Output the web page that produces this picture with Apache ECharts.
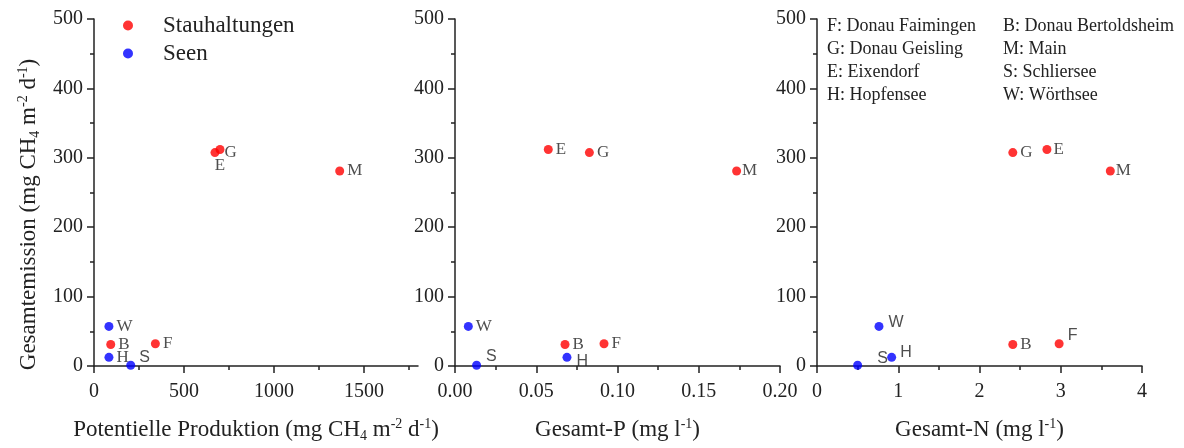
<!DOCTYPE html>
<html>
<head>
<meta charset="utf-8">
<script src="https://cdn.jsdelivr.net/npm/echarts@6/dist/echarts.min.js"></script>
<style>
html,body{margin:0;padding:0;background:#fff;}
#chart{width:1184px;height:448px;}
</style>
</head>
<body>
<div id="chart"></div>
<script>
// ---- data ----
const stauNames = ['F', 'B', 'G', 'M', 'E'];
const stauEmission = [32, 31, 307.5, 281, 312];
const stauProduktion = [341, 93, 672, 1365, 700];
const stauP = [0.0917, 0.0677, 0.0827, 0.1733, 0.0574];
const stauN = [2.98, 2.41, 2.41, 3.61, 2.83];

const seenNames = ['S', 'H', 'W'];
const seenEmission = [1, 12.5, 57];
const seenProduktion = [204, 83, 83];
const seenP = [0.0133, 0.0689, 0.0082];
const seenN = [0.50, 0.919, 0.763];

const yTicks = [0, 100, 200, 300, 400, 500];
const xTicksProd = [0, 500, 1000, 1500];
const xMinorProd = [250, 750, 1250, 1750];
const xTicksP = [0, 0.05, 0.10, 0.15, 0.20];
const xTicksN = [0, 1, 2, 3, 4];

const codeLeft = ['F: Donau Faimingen', 'G: Donau Geisling', 'E: Eixendorf', 'H: Hopfensee'];
const codeRight = ['B: Donau Bertoldsheim', 'M: Main', 'S: Schliersee', 'W: Wörthsee'];

// ---- styles ----
const SERIF = '"Liberation Serif", "Times New Roman", serif';
const SANS = '"Liberation Sans", Arial, sans-serif';
const INK = '#222222';
const RED = '#ff0000';
const BLUE = '#0000ff';

const grids = [
  {left: 94, top: 19, width: 324, height: 349},
  {left: 455, top: 19, width: 325, height: 349},
  {left: 817, top: 19, width: 325, height: 349}
];

// per-panel label placement
const labelPlace = [
  {G: {distance: 5}, E: {position: 'bottom', distance: 3}, S: {sans: true, offset: [1, -8]}},
  {M: {distance: 1}, S: {sans: true, offset: [2, -9]}, H: {sans: true, offset: [2, 4]}},
  {E: {distance: 2}, M: {distance: 1}, W: {sans: true, offset: [2, -4]}, H: {sans: true, offset: [1, -5]},
   S: {sans: true, offset: [12, -7]}, F: {sans: true, offset: [1, -8]}}
];

function items(xs, ys, names, panel) {
  return xs.map((x, i) => {
    const p = labelPlace[panel][names[i]] || {};
    return {
      value: [x, ys[i]],
      name: names[i],
      label: {
        show: true,
        formatter: names[i],
        position: p.position || 'right',
        distance: p.distance !== undefined ? p.distance : 3,
        offset: p.offset || [0, 0],
        fontFamily: p.sans ? SANS : SERIF,
        fontSize: p.sans ? 16 : 17,
        color: INK
      }
    };
  });
}

const lineStyle = {color: INK, width: 1.5};
const tickFont = {fontFamily: SERIF, fontSize: 20, color: INK};
function baseAxis(extra) {
  return Object.assign({
    type: 'value',
    axisLine: {show: true, onZero: false, lineStyle: lineStyle},
    axisTick: {show: true, inside: false, length: 7, lineStyle: lineStyle},
    minorTick: {show: true, splitNumber: 2, length: 4, lineStyle: lineStyle},
    splitLine: {show: false},
    minorSplitLine: {show: false},
    axisLabel: Object.assign({margin: 16}, tickFont)
  }, extra);
}

const rich = {
  n: {fontFamily: SERIF, fontSize: 23, color: INK, lineHeight: 26},
  sub: {fontFamily: SERIF, fontSize: 14, color: INK, lineHeight: 12, verticalAlign: 'bottom'},
  sup: {fontFamily: SERIF, fontSize: 14, color: INK, lineHeight: 14, verticalAlign: 'top'}
};
const nameStyle = {fontFamily: SERIF, fontSize: 23, color: INK, lineHeight: 26, rich: rich};

const xAxes = [
  baseAxis({gridIndex: 0, position: 'bottom', min: 0, max: 1800,
    axisTick: {show: true, length: 7, lineStyle: lineStyle, customValues: xTicksProd},
    axisLabel: Object.assign({margin: 16, customValues: xTicksProd, formatter: v => String(v)}, tickFont),
    minorTick: {show: false},
    name: '{n|Potentielle Produktion (mg CH}{sub|4}{n| m}{sup|-2}{n| d}{sup|-1}{n|)}',
    nameLocation: 'middle', nameGap: 51, nameTextStyle: nameStyle}),
  baseAxis({gridIndex: 1, position: 'bottom', min: xTicksP[0], max: xTicksP[xTicksP.length - 1], interval: 0.05,
    axisLabel: Object.assign({margin: 16, formatter: v => v.toFixed(2)}, tickFont),
    name: '{n|Gesamt-P (mg l}{sup|-1}{n|)}',
    nameLocation: 'middle', nameGap: 51, nameTextStyle: nameStyle}),
  baseAxis({gridIndex: 2, position: 'bottom', min: xTicksN[0], max: xTicksN[xTicksN.length - 1], interval: 1,
    name: '{n|Gesamt-N (mg l}{sup|-1}{n|)}',
    nameLocation: 'middle', nameGap: 51, nameTextStyle: nameStyle}),
  // minor ticks of the first x axis
  {type: 'value', gridIndex: 0, position: 'bottom', min: 0, max: 1800,
    axisLine: {show: false, onZero: false}, axisLabel: {show: false}, splitLine: {show: false},
    axisTick: {show: true, length: 4, lineStyle: lineStyle, customValues: xMinorProd}}
];

const yAxes = [0, 1, 2].map(g => baseAxis({
  gridIndex: g, position: 'left', min: yTicks[0], max: yTicks[yTicks.length - 1], interval: 100,
  axisLabel: Object.assign({margin: 11}, tickFont),
  name: g === 0 ? '{n|Gesamtemission (mg CH}{sub|4}{n| m}{sup|-2}{n| d}{sup|-1}{n|)}' : '',
  nameLocation: 'middle', nameGap: 52,
  nameTextStyle: Object.assign({}, nameStyle, {padding: [0, 44, 0, 0]})
}));

const panels = [
  [stauProduktion, seenProduktion],
  [stauP, seenP],
  [stauN, seenN]
];

const series = [];
panels.forEach((pair, g) => {
  series.push({
    type: 'scatter', name: 'Stauhaltungen', xAxisIndex: g, yAxisIndex: g,
    symbol: 'circle', symbolSize: 9, itemStyle: {color: RED},
    data: items(pair[0], stauEmission, stauNames, g), z: 3
  });
  series.push({
    type: 'scatter', name: 'Seen', xAxisIndex: g, yAxisIndex: g,
    symbol: 'circle', symbolSize: 9, itemStyle: {color: BLUE},
    data: items(pair[1], seenEmission, seenNames, g), z: 3
  });
});

const graphic = [];
codeLeft.forEach((t, i) => graphic.push({type: 'text', left: 827, top: 17 + i * 23,
  style: {text: t, fontFamily: SERIF, fontSize: 18, fill: INK}}));
codeRight.forEach((t, i) => graphic.push({type: 'text', left: 1003, top: 17 + i * 23,
  style: {text: t, fontFamily: SERIF, fontSize: 18, fill: INK}}));

const chart = echarts.init(document.getElementById('chart'), null, {renderer: 'canvas'});
chart.setOption({
  animation: false,
  backgroundColor: '#ffffff',
  grid: grids,
  xAxis: xAxes,
  yAxis: yAxes,
  legend: {
    data: ['Stauhaltungen', 'Seen'],
    orient: 'vertical', left: 118, top: 9,
    icon: 'circle', itemWidth: 60, itemHeight: 10, itemGap: 5,
    selectedMode: false,
    textStyle: {fontFamily: SERIF, fontSize: 23, color: INK, lineHeight: 20}
  },
  graphic: graphic,
  series: series
});
</script>
</body>
</html>
